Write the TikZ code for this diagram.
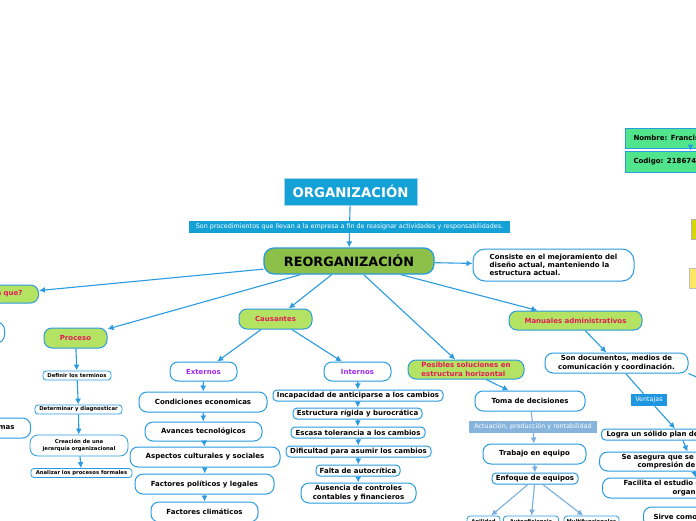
\documentclass[tikz,border=0pt]{standalone}
\usepackage{fontspec}
\setmainfont{DejaVu Sans}
\usetikzlibrary{arrows.meta}

\definecolor{mapblue}{RGB}{41,155,224}
\definecolor{orgcyan}{RGB}{20,161,214}
\definecolor{orgedge}{RGB}{160,214,238}
\definecolor{maingreen}{RGB}{140,192,72}
\definecolor{topicgreen}{RGB}{180,226,98}
\definecolor{topictext}{RGB}{226,28,90}
\definecolor{sidetext}{RGB}{160,40,240}
\definecolor{softblue}{RGB}{135,180,220}
\definecolor{softlink}{RGB}{120,175,222}
\definecolor{tagblue}{RGB}{30,150,225}
\definecolor{idgreen}{RGB}{80,228,140}
\definecolor{yellowA}{RGB}{215,215,0}
\definecolor{yellowB}{RGB}{255,232,100}

\tikzset{
  headbox/.style={fill=orgcyan, draw=orgedge, line width=1pt, text=white, font=\bfseries\fontsize{13.3}{15}\selectfont},
  mainbox/.style={rounded corners=10pt, fill=maingreen, draw=mapblue, line width=1.3pt, font=\bfseries\fontsize{12.8}{15}\selectfont},
  topic/.style={rounded corners=8pt, fill=topicgreen, draw=mapblue, line width=1pt, text=topictext},
  side/.style={rounded corners=8pt, fill=white, draw=mapblue, line width=1pt, text=sidetext},
  leaf/.style={rounded corners=8pt, fill=white, draw=mapblue, line width=1pt},
  slimleaf/.style={rounded corners=4pt, fill=white, draw=mapblue, line width=1pt},
  tinyleaf/.style={rounded corners=3pt, fill=white, draw=mapblue, line width=0.8pt, font=\bfseries\fontsize{5.3}{6.8}\selectfont},
  note/.style={fill=#1, text=white, inner sep=1pt, font=\fontsize{6.4}{7.4}\selectfont},
  idbox/.style={fill=idgreen, draw=mapblue, line width=1pt, anchor=west, minimum width=130pt},
  link/.style={draw=mapblue, line width=1.1pt, ->},
  softarrow/.style={draw=softlink, line width=1.1pt, ->}
}

\begin{document}
\begin{tikzpicture}[x=1pt, y=-1pt, >={Latex[length=6pt,width=6pt]},
    every node/.style={inner sep=1pt, align=center, font=\bfseries\fontsize{7}{8.3}\selectfont}]
        \useasboundingbox (0,0) rectangle (696,520);
        \clip (0,0) rectangle (696,520);
        \fill[white] (0,0) rectangle (696,520);

        \node(org) at (350.5,191.5)[headbox, minimum width=133pt, minimum height=27pt]{ORGANIZACIÓN};
        \node(orgnote) at (349.5,227)[note=orgcyan, minimum width=321pt, minimum height=12pt]{Son procedimientos que llevan a la empresa a fin de reasignar actividades y responsabilidades.};
        \node(reorg) at (349,261)[mainbox, minimum width=170pt, minimum height=26pt]{REORGANIZACIÓN};
        \node(consiste) at (553.5,265)[leaf, rounded corners=12pt, align=left, minimum width=161pt, minimum height=32pt]{Consiste en el mejoramiento del\\diseño actual, manteniendo la\\estructura actual.};

        \node(name) at (625,138)[idbox, minimum height=20pt, inner xsep=8pt, text width=114pt, align=left]{Nombre: Francis};
        \node(code) at (625,161.5)[idbox, minimum height=21pt, inner xsep=8pt, text width=114pt, align=left]{Codigo: 218674};
        \node(yellowa) at (691,229)[anchor=west, fill=yellowA, draw=gray!60, line width=1pt, minimum width=60pt, minimum height=20pt]{};
        \node(yellowb) at (689,278)[anchor=west, fill=yellowB, draw=gray!50, line width=1pt, minimum width=60pt, minimum height=20pt]{};

        \node(purpose) at (39,294)[topic, anchor=east, text width=40pt, align=right, inner xsep=16pt, minimum height=18pt]{a que?};
        \node(leftbox) at (5,332.5)[leaf, anchor=east, minimum width=70pt, minimum height=21pt]{};
        \node(leftleaf) at (31,428)[leaf, anchor=east, text width=40pt, align=right, inner xsep=16pt, minimum height=20pt]{mas};

        \node(proceso) at (75.5,338)[topic, minimum width=63pt, minimum height=20pt]{Proceso};
        \node(definir) at (77,375.5)[tinyleaf, minimum width=68pt, minimum height=9pt]{Definir los terminos};
        \node(diagnose) at (78.5,409.5)[tinyleaf, minimum width=87pt, minimum height=9pt]{Determinar y diagnosticar};
        \node(jerarquia) at (79,445.5)[tinyleaf, rounded corners=8pt, minimum width=98pt, minimum height=21pt]{Creación de una\\jerarquía organizacional};
        \node(analizar) at (81.5,473)[tinyleaf, minimum width=101pt, minimum height=9pt]{Analizar los procesos formales};

        \node(causantes) at (275.5,319)[topic, minimum width=73pt, minimum height=20pt]{Causantes};
        \node(externos) at (203.5,371.5)[side, minimum width=67pt, minimum height=19pt]{Externos};
        \node(economicas) at (203,402)[leaf, minimum width=128pt, minimum height=20pt]{Condiciones economicas};
        \node(tecnologia) at (203.5,431.5)[leaf, minimum width=117pt, minimum height=19pt]{Avances tecnológicos};
        \node(culturales) at (205,457)[leaf, minimum width=150pt, minimum height=20pt]{Aspectos culturales y sociales};
        \node(politicos) at (204.5,484)[leaf, minimum width=139pt, minimum height=20pt]{Factores políticos y legales};
        \node(climaticos) at (204.5,512)[leaf, minimum width=107pt, minimum height=20pt]{Factores climáticos};

        \node(internos) at (357.5,371.5)[side, minimum width=67pt, minimum height=19pt]{Internos};
        \node(incapacidad) at (358,395.5)[slimleaf, minimum width=170pt, minimum height=11pt]{Incapacidad de anticiparse a los cambios};
        \node(rigida) at (357.5,413.5)[slimleaf, minimum width=129pt, minimum height=11pt]{Estructura rígida y burocrática};
        \node(tolerancia) at (358,432.5)[slimleaf, minimum width=134pt, minimum height=11pt]{Escasa tolerancia a los cambios};
        \node(dificultad) at (358.5,451.5)[slimleaf, minimum width=145pt, minimum height=11pt]{Dificultad para asumir los cambios};
        \node(autocritica) at (358,470.5)[slimleaf, minimum width=84pt, minimum height=11pt]{Falta de autocrítica};
        \node(controles) at (358.5,493)[leaf, minimum width=115pt, minimum height=20pt]{Ausencia de controles\\contables y financieros};

        \node(posibles) at (466,369.5)[topic, align=left, minimum width=116pt, minimum height=19pt]{Posibles soluciones en\\estructura horizontal};
        \node(toma) at (530,401)[leaf, minimum width=110pt, minimum height=20pt]{Toma de decisiones};
        \node(actuacion) at (533,427)[note=softblue, minimum width=128pt, minimum height=12pt]{Actuación, producción y rentabilidad};
        \node(trabajo) at (534.5,454)[leaf, minimum width=103pt, minimum height=20pt]{Trabajo en equipo};
        \node(enfoque) at (535,478.5)[slimleaf, minimum width=86pt, minimum height=11pt]{Enfoque de equipos};
        \node(agilidad) at (483.5,522)[tinyleaf, minimum width=33pt, minimum height=12pt]{Agilidad};
        \node(autoeficiencia) at (531,522)[tinyleaf, minimum width=55pt, minimum height=12pt]{Autoeficiencia};
        \node(multi) at (591.5,522)[tinyleaf, minimum width=55pt, minimum height=12pt]{Multifuncionales};

        \node(manuales) at (575.5,320.5)[topic, minimum width=133pt, minimum height=19pt]{Manuales administrativos};
        \node(sondoc) at (616.5,363)[leaf, minimum width=143pt, minimum height=20pt]{Son documentos, medios de\\comunicación y coordinación.};
        \node(ventajas) at (649,400)[note=tagblue, minimum width=36pt, minimum height=12pt]{Ventajas};
        \node(logra) at (601,434.5)[slimleaf, anchor=west, inner xsep=5pt, text width=148pt, align=left, minimum height=11pt]{Logra un sólido plan de};
        \node(asegura) at (599,461.5)[leaf, anchor=west, inner xsep=22pt, text width=140pt, align=left, minimum height=19pt]{Se asegura que se t\\\hspace*{16pt}compresión de};
        \node(facilita) at (602,488)[leaf, anchor=west, inner xsep=21pt, text width=150pt, align=left, minimum height=20pt]{Facilita el estudio d\\\hspace*{49pt}organ};
        \node(sirve) at (643,517)[leaf, anchor=west, inner xsep=10pt, text width=130pt, align=left, minimum height=20pt]{Sirve como};
        \coordinate(offright) at (740,396);

        \draw[draw=mapblue, line width=1.1pt] (org) -- (orgnote);
        \draw[link] (orgnote) -- (reorg);
        \draw[link] (reorg) -- (consiste);
        \draw[link] (reorg) -- (purpose);
        \draw[link] (reorg) -- (proceso);
        \draw[link] (reorg) -- (causantes);
        \draw[link] (reorg) -- (posibles);
        \draw[link] (reorg) -- (manuales);
        \draw[link] (name) -- (code);

        \draw[link] (proceso) -- (definir);
        \draw[link] (definir) -- (diagnose);
        \draw[link] (diagnose) -- (jerarquia);
        \draw[link] (jerarquia) -- (analizar);

        \draw[link] (causantes) -- (externos);
        \draw[link] (causantes) -- (internos);
        \draw[link] (externos) -- (economicas);
        \draw[link] (economicas) -- (tecnologia);
        \draw[link] (tecnologia) -- (culturales);
        \draw[link] (culturales) -- (politicos);
        \draw[link] (politicos) -- (climaticos);
        \draw[link] (internos) -- (incapacidad);
        \draw[link] (incapacidad) -- (rigida);
        \draw[link] (rigida) -- (tolerancia);
        \draw[link] (tolerancia) -- (dificultad);
        \draw[link] (dificultad) -- (autocritica);
        \draw[link] (autocritica) -- (controles);

        \draw[link] (posibles) -- (toma);
        \draw[draw=softlink, line width=1.1pt] (toma) -- (actuacion);
        \draw[softarrow] (actuacion) -- (trabajo);
        \draw[softarrow] (trabajo) -- (enfoque);
        \draw[softarrow] (enfoque) -- (agilidad);
        \draw[softarrow] (enfoque) -- (autoeficiencia);
        \draw[softarrow] (enfoque) -- (multi);

        \draw[link] (manuales) -- (sondoc);
        \draw[draw=mapblue, line width=1.1pt] (sondoc) -- (ventajas);
        \draw[link] (ventajas) -- (logra);
        \draw[link] (logra) -- (asegura);
        \draw[link] (asegura) -- (facilita);
        \draw[link] (facilita) -- (sirve);
        \draw[draw=mapblue, line width=1.1pt] (sondoc.south east) -- (offright);
\end{tikzpicture}
\end{document}
